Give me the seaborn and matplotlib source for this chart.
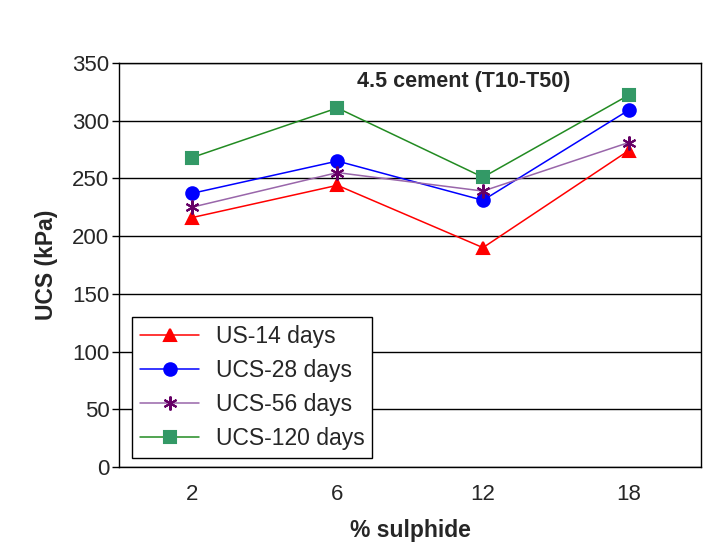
import matplotlib
matplotlib.use("Agg")
import matplotlib.pyplot as plt
import seaborn as sns

# data
sulphide = ["2", "6", "12", "18"]
us_14 = [216, 244, 190, 274]
ucs_28 = [237, 265, 231, 309]
ucs_56 = [225, 255, 239, 281]
ucs_120 = [268, 311, 251, 322]
series_names = ["US-14 days", "UCS-28 days", "UCS-56 days", "UCS-120 days"]
yticks = [0, 50, 100, 150, 200, 250, 300, 350]

sns.set_style("white")
plt.rcParams["font.family"] = ["Liberation Sans", "DejaVu Sans"]

fig = plt.figure(figsize=(7.26, 5.52), dpi=100)
ax = fig.add_axes([0.164, 0.154, 0.802, 0.732])

xpos = list(range(len(sulphide)))
styles = [
    (us_14, "#FF0000", "#FF0000", "^", 9),
    (ucs_28, "#0000FF", "#0000FF", "o", 9),
    (ucs_56, "#9966AA", "#660066", (6, 2, 0), 10),
    (ucs_120, "#228B22", "#339966", "s", 8),
]
for (vals, lc, mc, mk, ms), name in zip(styles, series_names):
    sns.lineplot(x=xpos, y=vals, ax=ax, color=lc, linewidth=1.1, marker=mk,
                 markersize=ms, markerfacecolor=mc, markeredgecolor=mc,
                 markeredgewidth=1.5, label=name)

ax.set_xlim(-0.5, len(sulphide) - 0.5)
ax.set_ylim(0, 350)
ax.set_yticks(yticks)
ax.set_xticks(xpos)
ax.set_xticklabels(sulphide)
ax.set_xticks([i - 0.5 for i in range(len(sulphide) + 1)], minor=True)
ax.tick_params(axis="x", which="major", length=0, labelsize=16, pad=12)
ax.tick_params(axis="x", which="minor", length=5, width=1, direction="out", color="black")
ax.tick_params(axis="y", length=5, width=1, direction="out", color="black", labelsize=16, left=True, pad=2)
ax.yaxis.grid(True, color="black", linewidth=1)
ax.set_axisbelow(True)
for sp in ax.spines.values():
    sp.set_color("black")
    sp.set_linewidth(1)

ax.set_xlabel("% sulphide", fontsize=16.5, fontweight="bold", labelpad=10)
ax.set_ylabel("UCS (kPa)", fontsize=16.5, fontweight="bold", labelpad=10)
ax.text(1.87, 334, "4.5 cement (T10-T50)", fontsize=15.5, fontweight="bold",
        ha="center", va="center")

leg = ax.legend(loc="lower left", bbox_to_anchor=(0.022, 0.022), fontsize=16.5,
                frameon=True, fancybox=False, framealpha=1, borderpad=0.35,
                handlelength=2.6, handletextpad=0.7, labelspacing=0.48,
                borderaxespad=0)
leg.get_frame().set_edgecolor("black")
leg.get_frame().set_linewidth(1)

fig.savefig("out.png", dpi=100)
